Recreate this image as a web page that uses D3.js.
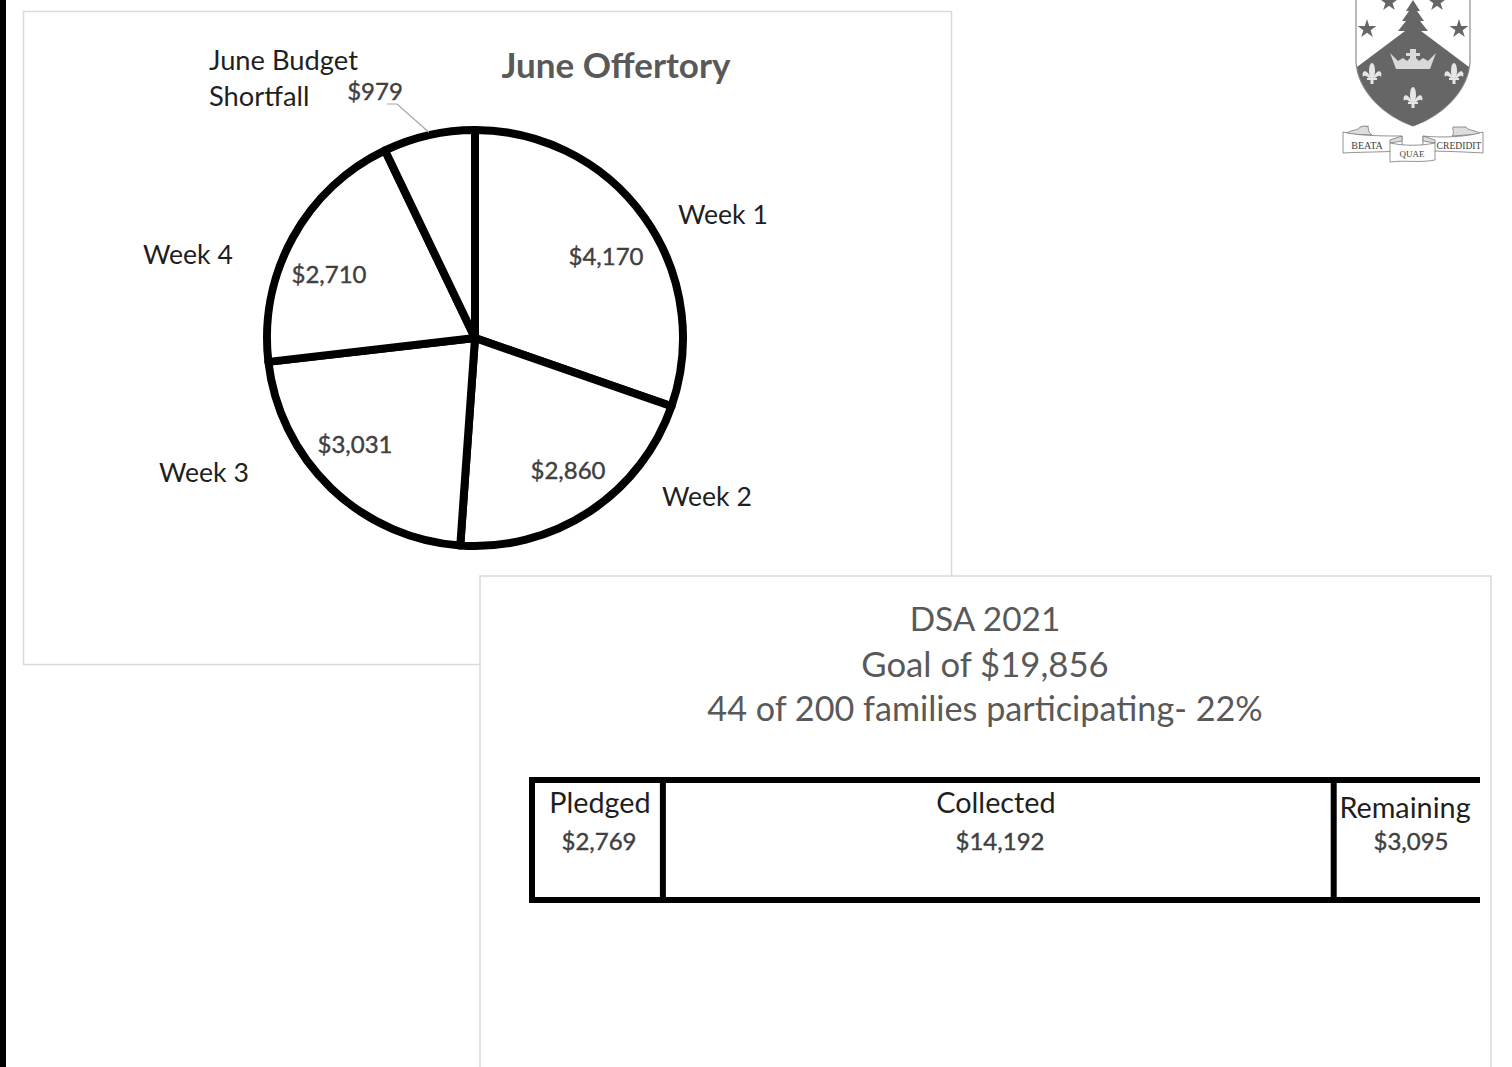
<!DOCTYPE html>
<html>
<head>
<meta charset="utf-8">
<script src="https://cdn.jsdelivr.net/npm/d3@7"></script>
<style>
  html, body { margin: 0; padding: 0; background: #fff; overflow: hidden; }
  text { font-family: Lato, "Open Sans", sans-serif; }
</style>
</head>
<body>
<div id="wrapper"></div>
<script>
// data
const weeks = ["Week 1", "Week 2", "Week 3", "Week 4", "June Budget Shortfall"];
const offertory = [4170, 2860, 3031, 2710, 979];
const dsaParts = ["Pledged", "Collected", "Remaining"];
const dsaValues = [2769, 14192, 3095];
const dsaTitle = ["DSA 2021", "Goal of $19,856", "44 of 200 families participating- 22%"];

const money = d3.format("$,");

const wrapper = d3.select("#wrapper").append("svg")
  .attr("width", 1512)
  .attr("height", 1067);

wrapper.append("rect").attr("width", 1512).attr("height", 1067).attr("fill", "#fff");
wrapper.append("rect").attr("width", 6).attr("height", 1067).attr("fill", "#000");

// pie card
wrapper.append("rect")
  .attr("x", 23.5).attr("y", 11.5).attr("width", 928).attr("height", 653)
  .attr("fill", "#fff").attr("stroke", "#d9d9d9").attr("stroke-width", 1.5);

wrapper.append("text")
  .attr("x", 616).attr("y", 78).attr("text-anchor", "middle")
  .attr("font-size", 35).attr("font-weight", 700).attr("fill", "#595959")
  .text("June Offertory");

const pie = d3.pie().sort(null).value((d) => d);
const arc = d3.arc().innerRadius(0).outerRadius(208);
const slices = pie(offertory);

const pieG = wrapper.append("g").attr("transform", "translate(475,338)");

pieG.selectAll("path")
  .data(slices)
  .enter().append("path")
    .attr("d", arc)
    .attr("fill", "#fff")
    .attr("stroke", "#000")
    .attr("stroke-width", 8)
    .attr("stroke-linejoin", "round");

// leader line for the shortfall label
const shortfallEdge = d3.arc().innerRadius(208).outerRadius(208).centroid(slices[4]);
pieG.append("path")
  .attr("d", `M${shortfallEdge[0]},${shortfallEdge[1] - 3}L-78,-234L-88,-234`)
  .attr("fill", "none")
  .attr("stroke", "#a6a6a6")
  .attr("stroke-width", 1.2);

// hand placed labels, same order as weeks
const nameSpots = [[678, 224], [662, 506], [159, 482], [143, 264]];
const valueSpots = [[606, 265], [568, 479], [355, 453], [329, 283], [375, 100]];

wrapper.selectAll(".name")
  .data(weeks.slice(0, 4))
  .enter().append("text")
    .attr("class", "name")
    .attr("x", (d, i) => nameSpots[i][0])
    .attr("y", (d, i) => nameSpots[i][1])
    .attr("font-size", 26.6)
    .attr("fill", "#1f1f1f")
    .text((d) => d);

wrapper.selectAll(".value")
  .data(offertory)
  .enter().append("text")
    .attr("class", "value")
    .attr("x", (d, i) => valueSpots[i][0])
    .attr("y", (d, i) => valueSpots[i][1])
    .attr("text-anchor", "middle")
    .attr("font-size", 24)
    .attr("fill", "#404040")
    .attr("stroke", "#404040")
    .attr("stroke-width", 0.4)
    .text((d) => money(d));

wrapper.append("text").attr("x", 209).attr("y", 70)
  .attr("font-size", 27.3).attr("fill", "#1f1f1f").text("June Budget");
wrapper.append("text").attr("x", 209).attr("y", 106)
  .attr("font-size", 27.3).attr("fill", "#1f1f1f").text("Shortfall");

// DSA card sits on top of the pie card
wrapper.append("rect")
  .attr("x", 480).attr("y", 576).attr("width", 1011).attr("height", 500)
  .attr("fill", "#fff").attr("stroke", "#d9d9d9").attr("stroke-width", 1.5);

const titleY = [631, 677, 721];
const titleSize = [33.4, 34.7, 34.2];
wrapper.selectAll(".dsaTitle")
  .data(dsaTitle)
  .enter().append("text")
    .attr("class", "dsaTitle")
    .attr("x", 985)
    .attr("y", (d, i) => titleY[i])
    .attr("text-anchor", "middle")
    .attr("font-size", (d, i) => titleSize[i])
    .attr("fill", "#595959")
    .text((d) => d);

// stacked bar
const xScale = d3.scaleLinear()
  .domain([0, d3.sum(dsaValues)])
  .range([532, 1480]);
const cumulative = d3.cumsum([0].concat(dsaValues));
const barTop = 780, barBottom = 900;

const barG = wrapper.append("g").attr("stroke", "#000").attr("stroke-width", 6);
barG.append("line").attr("x1", 529).attr("x2", 1480).attr("y1", barTop).attr("y2", barTop);
barG.append("line").attr("x1", 529).attr("x2", 1480).attr("y1", barBottom).attr("y2", barBottom);
barG.selectAll(".divider")
  .data(cumulative.slice(0, 3))
  .enter().append("line")
    .attr("class", "divider")
    .attr("x1", (d) => xScale(d)).attr("x2", (d) => xScale(d))
    .attr("y1", barTop).attr("y2", barBottom);

const partX = [600, 996, 1405], partY = [813, 813, 818];
const partValX = [599, 1000, 1411];
wrapper.selectAll(".part")
  .data(dsaParts)
  .enter().append("text")
    .attr("class", "part")
    .attr("x", (d, i) => partX[i])
    .attr("y", (d, i) => partY[i])
    .attr("text-anchor", "middle")
    .attr("font-size", 28.8)
    .attr("fill", "#1f1f1f")
    .text((d) => d);
wrapper.selectAll(".partValue")
  .data(dsaValues)
  .enter().append("text")
    .attr("class", "partValue")
    .attr("x", (d, i) => partValX[i])
    .attr("y", 850)
    .attr("text-anchor", "middle")
    .attr("font-size", 24)
    .attr("fill", "#404040")
    .attr("stroke", "#404040")
    .attr("stroke-width", 0.4)
    .text((d) => money(d));

// crest, top right
const crest = wrapper.append("g");
crest.append("path")
  .attr("d", "M1356,-2V62C1358,92 1385,116 1413,126C1441,116 1468,92 1470,62V-2")
  .attr("fill", "#fff").attr("stroke", "#8c8c8c").attr("stroke-width", 1.2);
crest.append("path")
  .attr("d", "M1357,67L1413,25L1469,67C1466,92 1441,116 1413,126C1385,116 1360,92 1357,67Z")
  .attr("fill", "#666");
crest.append("path")
  .attr("d", "M1413,0L1420,11L1417,11L1424,21L1420,21L1428,31L1398,31L1406,21L1402,21L1409,11L1406,11Z")
  .attr("fill", "#666");

const star = d3.symbol().type(d3.symbolStar).size(110);
crest.selectAll(".star")
  .data([[1367, 29], [1459, 29], [1389, 2], [1437, 2]])
  .enter().append("path")
    .attr("class", "star")
    .attr("d", star)
    .attr("transform", (d) => `translate(${d[0]},${d[1]})`)
    .attr("fill", "#666");

crest.append("path")
  .attr("d", "M1390,53L1398,61L1403,58L1407,61L1410,58V56H1406V53H1410V49H1416V53H1420V56H1416V58L1419,61L1423,58L1428,61L1436,53L1430,69H1396Z")
  .attr("fill", "#d9d9d9");

const fleur = crest.selectAll(".fleur")
  .data([[1372, 74], [1454, 74], [1413, 98]])
  .enter().append("g")
    .attr("class", "fleur")
    .attr("transform", (d) => `translate(${d[0]},${d[1]})`)
    .attr("fill", "#e6e6e6");
fleur.append("ellipse").attr("cx", 0).attr("cy", -3).attr("rx", 3).attr("ry", 8);
fleur.append("path").attr("d", "M-2,2C-6,-6 -11,-3 -9,3C-8,1 -6,1 -2,5Z");
fleur.append("path").attr("d", "M2,2C6,-6 11,-3 9,3C8,1 6,1 2,5Z");
fleur.append("rect").attr("x", -5).attr("y", 4).attr("width", 10).attr("height", 2);
fleur.append("rect").attr("x", -1.5).attr("y", 6).attr("width", 3).attr("height", 4);

const scroll = crest.append("g").attr("stroke", "#777").attr("stroke-width", 0.8);
scroll.append("path").attr("d", "M1360,135V128C1364,126 1370,126 1364,127L1364,127C1368,126 1372,126 1364,127").attr("fill", "none");
scroll.append("path").attr("d", "M1345,134C1350,130 1360,130 1360,127L1364,126C1372,126 1365,130 1372,135Z").attr("fill", "#ddd");
scroll.append("path").attr("d", "M1481,134C1476,130 1466,130 1466,127L1453,127C1452,130 1455,133 1452,136Z").attr("fill", "#ddd");
scroll.append("path").attr("d", "M1343,132C1358,136 1385,136 1402,136V151C1385,152 1360,152 1343,153Z").attr("fill", "#fff");
scroll.append("path").attr("d", "M1483,132C1468,137 1441,138 1423,136V151C1441,151 1468,152 1483,153Z").attr("fill", "#fff");
scroll.append("path").attr("d", "M1390,143L1402,141V136L1390,140Z").attr("fill", "#ddd");
scroll.append("path").attr("d", "M1435,143L1423,141V136L1435,140Z").attr("fill", "#ddd");
scroll.append("path").attr("d", "M1390,143C1405,146 1420,146 1435,143V160C1420,163 1405,160 1390,162Z").attr("fill", "#fff");

const mottoes = [["BEATA", 1367, 149, 10], ["QUAE", 1412, 157, 9], ["CREDIDIT", 1459, 149, 9.6]];
crest.selectAll(".motto")
  .data(mottoes)
  .enter().append("text")
    .attr("class", "motto")
    .attr("x", (d) => d[1])
    .attr("y", (d) => d[2])
    .attr("text-anchor", "middle")
    .attr("font-size", (d) => d[3])
    .attr("fill", "#404040")
    .style("font-family", "'Liberation Serif', serif")
    .text((d) => d[0]);
</script>
</body>
</html>
